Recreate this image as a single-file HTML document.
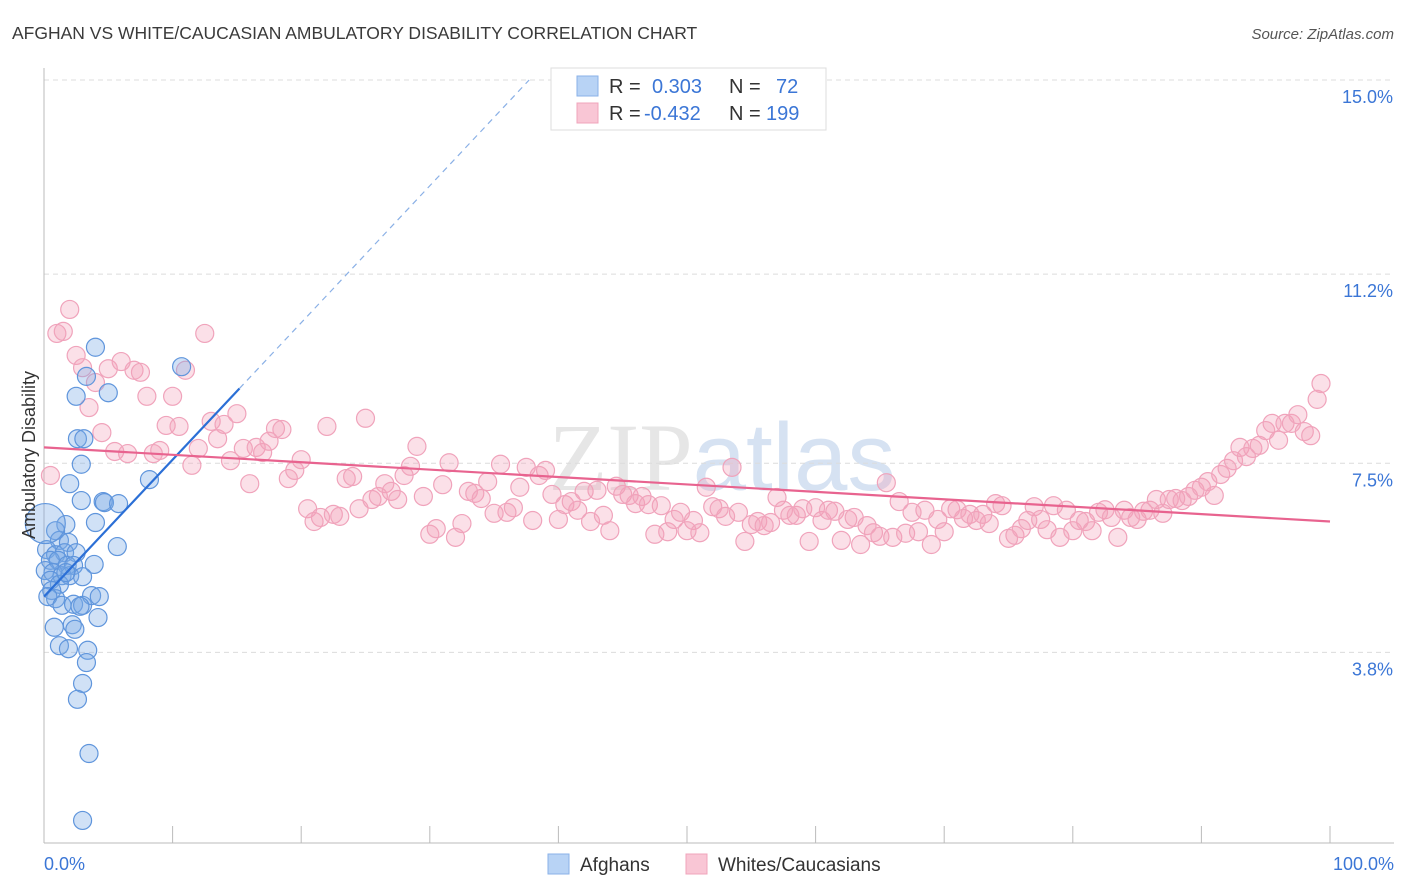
<!DOCTYPE html>
<html><head><meta charset="utf-8"><style>
body{margin:0;background:#fff;font-family:"Liberation Sans",sans-serif;}
svg{display:block}
</style></head><body>
<svg id="chart" width="1406" height="892" xmlns="http://www.w3.org/2000/svg" font-family="Liberation Sans, sans-serif">
<text x="12" y="39" font-size="17.5" fill="#3a3a3a">AFGHAN VS WHITE/CAUCASIAN AMBULATORY DISABILITY CORRELATION CHART</text>
<text x="1394" y="39" font-size="15" fill="#555" font-style="italic" text-anchor="end">Source: ZipAtlas.com</text>
<text x="722" y="490" font-size="96" fill="#e6e6e6" text-anchor="middle" font-family="Liberation Serif, serif">ZIP<tspan font-family="Liberation Sans, sans-serif" fill="#d6e2f2">atlas</tspan></text>
<g id="grid"></g>
<g id="axes"></g>
<g id="pink"></g>
<g id="blue"></g>
<g id="lines"></g>
<text transform="translate(35,455) rotate(-90)" font-size="18" fill="#333" text-anchor="middle">Ambulatory Disability</text>
<g>
<rect x="551" y="68" width="275" height="62" fill="#fff" stroke="#ddd"/>
<rect x="577" y="76" width="21" height="20" fill="#b8d3f5" stroke="#8ab2e8"/>
<rect x="577" y="103" width="21" height="20" fill="#f9c6d5" stroke="#f0a4bb"/>
<text x="609" y="93" font-size="20" fill="#333">R =</text>
<text x="652" y="93" font-size="20" fill="#3b76d6">0.303</text>
<text x="729" y="93" font-size="20" fill="#333">N =</text>
<text x="776" y="93" font-size="20" fill="#3b76d6">72</text>
<text x="609" y="120" font-size="20" fill="#333">R =</text>
<text x="644" y="120" font-size="20" fill="#3b76d6">-0.432</text>
<text x="729" y="120" font-size="20" fill="#333">N =</text>
<text x="766" y="120" font-size="20" fill="#3b76d6">199</text>
</g>
<g>
<rect x="548" y="854" width="21" height="20" fill="#b8d3f5" stroke="#8ab2e8"/>
<text x="580" y="871" font-size="19" fill="#333">Afghans</text>
<rect x="686" y="854" width="21" height="20" fill="#f9c6d5" stroke="#f0a4bb"/>
<text x="718" y="871" font-size="19" fill="#333">Whites/Caucasians</text>
</g>
</svg>
<script>
const yTicks=[3.8,7.5,11.2,15.0];
const yTickLabels=["3.8%","7.5%","11.2%","15.0%"];
const xTicks=[0,10,20,30,40,50,60,70,80,90,100];
const xEndLabels=["0.0%","100.0%"];
const blueX=[4.0,5.0,3.3,2.5,10.7,2.6,3.1,2.9,2.0,2.9,4.6,4.7,5.8,5.7,8.2,4.0,1.7,0.9,1.2,1.9,0.2,0.9,1.6,2.5,0.5,1.1,1.8,2.3,3.9,0.1,0.7,1.4,2.0,3.0,0.5,1.2,1.7,0.6,0.9,0.3,1.4,2.3,3.0,3.7,4.3,2.8,4.2,0.8,2.2,2.4,1.2,1.9,3.4,3.3,3.0,2.6,3.5,3.0,0.1];
const blueY=[9.77,8.88,9.20,8.81,9.39,7.98,7.98,7.48,7.10,6.77,6.75,6.73,6.71,5.87,7.18,6.34,6.30,6.18,5.99,5.95,5.81,5.71,5.75,5.75,5.60,5.60,5.50,5.50,5.52,5.40,5.36,5.30,5.30,5.28,5.21,5.13,5.36,5.01,4.85,4.89,4.72,4.74,4.72,4.91,4.89,4.70,4.48,4.29,4.34,4.25,3.93,3.87,3.84,3.60,3.19,2.88,1.82,0.51,6.32];
const pinkY=[7.26,10.04,10.08,10.51,9.61,9.37,8.59,9.08,8.10,9.35,7.73,9.49,7.69,9.32,9.28,8.81,7.69,7.75,8.24,8.81,8.22,9.32,7.46,7.79,10.04,8.32,7.98,8.26,7.55,8.47,7.79,7.10,7.81,7.71,7.93,8.18,8.16,7.20,7.36,7.57,6.61,6.36,6.44,8.22,6.50,6.46,7.20,7.24,6.61,8.38,6.79,6.85,7.10,6.95,6.79,7.26,7.44,7.83,6.85,6.11,6.22,7.08,7.51,6.05,6.32,6.95,6.91,6.81,7.14,6.52,7.48,6.54,6.63,7.03,7.42,6.38,7.26,7.36,6.89,6.40,6.69,6.75,6.58,6.95,6.36,6.97,6.48,6.18,7.05,6.89,6.87,6.71,6.85,6.69,6.11,6.67,6.16,6.40,6.54,6.18,6.38,6.14,7.03,6.65,6.61,6.46,7.42,6.54,5.97,6.30,6.36,6.28,6.34,6.83,6.58,6.48,6.48,6.61,5.97,6.63,6.38,6.58,6.56,5.99,6.40,6.44,5.91,6.28,6.14,6.07,7.12,6.05,6.75,6.13,6.54,6.16,6.58,5.91,6.40,6.16,6.61,6.59,6.42,6.50,6.38,6.50,6.32,6.71,6.67,6.03,6.09,6.22,6.38,6.65,6.40,6.20,6.67,6.05,6.58,6.18,6.38,6.36,6.18,6.54,6.59,6.44,6.05,6.58,6.44,6.40,6.56,6.58,6.79,6.52,6.79,6.81,6.77,6.85,6.97,7.03,7.14,6.87,7.28,7.40,7.55,7.81,7.63,7.79,7.85,8.14,8.28,7.95,8.28,8.28,8.45,8.12,8.04,8.75,9.06];
const pinkX=[0.5,1,1.5,2,2.5,3,3.5,4,4.5,5,5.5,6,6.5,7,7.5,8,8.5,9,9.5,10,10.5,11,11.5,12,12.5,13,13.5,14,14.5,15,15.5,16,16.5,17,17.5,18,18.5,19,19.5,20,20.5,21,21.5,22,22.5,23,23.5,24,24.5,25,25.5,26,26.5,27,27.5,28,28.5,29,29.5,30,30.5,31,31.5,32,32.5,33,33.5,34,34.5,35,35.5,36,36.5,37,37.5,38,38.5,39,39.5,40,40.5,41,41.5,42,42.5,43,43.5,44,44.5,45,45.5,46,46.5,47,47.5,48,48.5,49,49.5,50,50.5,51,51.5,52,52.5,53,53.5,54,54.5,55,55.5,56,56.5,57,57.5,58,58.5,59,59.5,60,60.5,61,61.5,62,62.5,63,63.5,64,64.5,65,65.5,66,66.5,67,67.5,68,68.5,69,69.5,70,70.5,71,71.5,72,72.5,73,73.5,74,74.5,75,75.5,76,76.5,77,77.5,78,78.5,79,79.5,80,80.5,81,81.5,82,82.5,83,83.5,84,84.5,85,85.5,86,86.5,87,87.5,88,88.5,89,89.5,90,90.5,91,91.5,92,92.5,93,93.5,94,94.5,95,95.5,96,96.5,97,97.5,98,98.5,99,99.3];
const blueTrend=[4.89,0.268];
const pinkTrend=[7.81,-0.0145];
const NS="http://www.w3.org/2000/svg";
const X=p=>44+p*12.86;
const Y=v=>846.5-v*51.1;
function mk(tag,attrs,parent){const e=document.createElementNS(NS,tag);for(const k in attrs)e.setAttribute(k,attrs[k]);parent.appendChild(e);return e;}
const grid=document.getElementById('grid'),axes=document.getElementById('axes');
yTicks.forEach((t,i)=>{
 const l=mk('line',{x1:44,x2:1394,y1:Y(t),y2:Y(t),stroke:'#dcdcdc','stroke-dasharray':'5,4'},grid);
 
 
 const tx=mk('text',{x:1393,y:Y(t)+23,'font-size':18,fill:'#3b76d6','text-anchor':'end'},grid);
 tx.textContent=yTickLabels[i];
 
 
});
const ya=mk('line',{x1:44,x2:44,y1:68,y2:843,stroke:'#bbb'},axes);


const xa=mk('line',{x1:44,x2:1394,y1:843,y2:843,stroke:'#bbb'},axes);


xTicks.forEach(t=>{
 const l=mk('line',{x1:X(t),x2:X(t),y1:826,y2:843,stroke:'#bbb'},axes);
 
 
});
const xl0=mk('text',{x:44,y:870,'font-size':18,fill:'#3b76d6'},axes);xl0.textContent=xEndLabels[0];


const xl1=mk('text',{x:1394,y:870,'font-size':18,fill:'#3b76d6','text-anchor':'end'},axes);xl1.textContent=xEndLabels[1];


const pg=document.getElementById('pink');
pinkX.forEach((x,i)=>{
 const c=mk('circle',{cx:X(x),cy:Y(pinkY[i]),r:9,fill:'rgba(244,160,186,0.33)',stroke:'#f0a3bb','stroke-width':1.2},pg);
 
 
});
const bg=document.getElementById('blue');
blueX.forEach((x,i)=>{
 const r=i===blueX.length-1?20:9;
 const c=mk('circle',{cx:X(x),cy:Y(blueY[i]),r:r,fill:'rgba(120,168,230,0.35)',stroke:'#5f95dc','stroke-width':1.2},bg);
 
 
});
const lg=document.getElementById('lines');
const bEnd=Math.max(...blueX)+4.5;
const bDashEnd=(15-blueTrend[0])/blueTrend[1];
const bl=mk('line',{x1:X(0),y1:Y(blueTrend[0]),x2:X(bEnd),y2:Y(blueTrend[0]+blueTrend[1]*bEnd),stroke:'#2b6fd6','stroke-width':2.2},lg);


const bd=mk('line',{x1:X(bEnd),y1:Y(blueTrend[0]+blueTrend[1]*bEnd),x2:X(bDashEnd),y2:Y(15),stroke:'#8ab0e6','stroke-width':1.2,'stroke-dasharray':'6,5'},lg);


const pl=mk('line',{x1:X(0),y1:Y(pinkTrend[0]),x2:X(100),y2:Y(pinkTrend[0]+pinkTrend[1]*100),stroke:'#e8638f','stroke-width':2.2},lg);


</script>
</body></html>
